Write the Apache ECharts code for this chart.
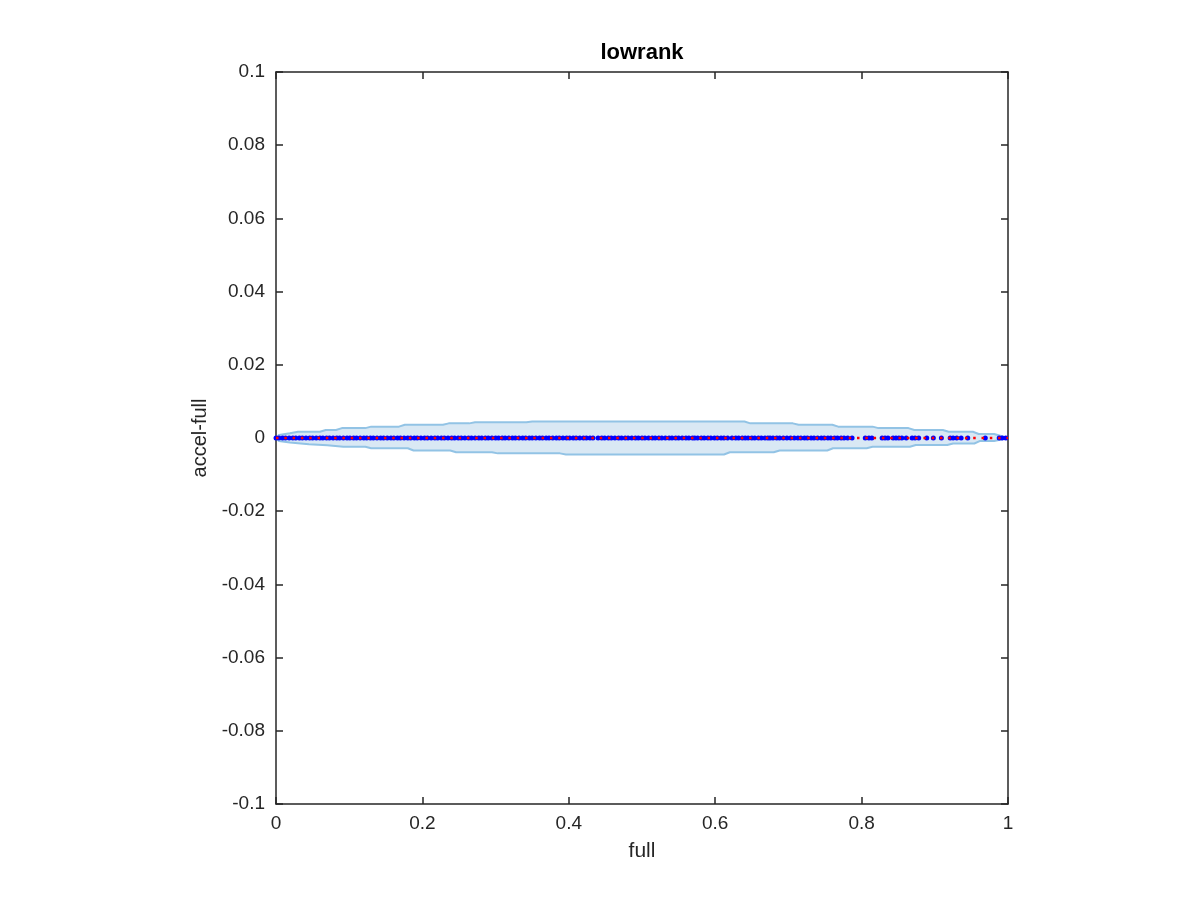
<!DOCTYPE html>
<html>
<head>
<meta charset="utf-8">
<script src="https://cdn.jsdelivr.net/npm/echarts@6/dist/echarts.min.js"></script>
<style>html,body{margin:0;padding:0;background:#fff}#c{width:1200px;height:900px}</style>
</head>
<body>
<div id="c"></div>
<script>
// ---- data ----
var titleText = 'lowrank';
var xName = 'full';
var yName = 'accel-full';
var xTicks = [0, 0.2, 0.4, 0.6, 0.8, 1];
var yTicks = [-0.1, -0.08, -0.06, -0.04, -0.02, 0, 0.02, 0.04, 0.06, 0.08, 0.1];

// envelope of the shaded band (staircase)
var upperX = [0, 0.004, 0.019, 0.030, 0.060, 0.068, 0.082, 0.090, 0.122, 0.130, 0.168, 0.176, 0.228, 0.236, 0.264, 0.272, 0.342, 0.350,
              0.640, 0.648, 0.706, 0.714, 0.760, 0.768, 0.815, 0.823, 0.864, 0.872, 0.911, 0.919, 0.952, 0.960, 0.981, 1];
var upperY = [0, 0.0008, 0.0013, 0.0017, 0.0017, 0.0022, 0.0022, 0.0027, 0.0027, 0.0031, 0.0031, 0.0036, 0.0036, 0.0040, 0.0040, 0.0043, 0.0043, 0.0045,
              0.0045, 0.0040, 0.0040, 0.0036, 0.0036, 0.0031, 0.0031, 0.0027, 0.0027, 0.0022, 0.0022, 0.0017, 0.0017, 0.0011, 0.0011, 0];
var lowerX = [0, 0.004, 0.019, 0.045, 0.070, 0.092, 0.122, 0.130, 0.180, 0.188, 0.238, 0.246, 0.295, 0.303, 0.388, 0.396,
              0.612, 0.620, 0.680, 0.688, 0.753, 0.761, 0.807, 0.815, 0.866, 0.874, 0.917, 0.925, 0.954, 0.962, 0.981, 1];
var lowerY = [0, -0.0008, -0.0012, -0.0017, -0.0020, -0.0024, -0.0024, -0.0028, -0.0028, -0.0034, -0.0034, -0.0039, -0.0039, -0.0042, -0.0042, -0.0045,
              -0.0045, -0.0039, -0.0039, -0.0034, -0.0034, -0.0028, -0.0028, -0.0024, -0.0024, -0.0019, -0.0019, -0.0015, -0.0015, -0.0008, -0.0008, 0];

// blue points (x values, all at accel-full ~ 0)
var pointsX = [
0.000,0.004,0.009,0.013,0.018,0.023,0.027,0.032,0.036,0.041,0.046,0.050,0.055,0.060,0.064,0.069,0.073,0.078,0.083,0.087,
0.092,0.097,0.101,0.106,0.110,0.115,0.120,0.124,0.129,0.133,0.138,0.143,0.147,0.152,0.157,0.161,0.166,0.170,0.175,0.180,
0.184,0.189,0.193,0.198,0.203,0.207,0.212,0.217,0.221,0.226,0.230,0.235,0.240,0.244,0.249,0.253,0.258,0.263,0.267,0.272,
0.277,0.281,0.286,0.290,0.295,0.300,0.304,0.309,0.313,0.318,0.323,0.327,0.332,0.337,0.341,0.346,0.350,0.355,0.360,0.364,
0.369,0.373,0.378,0.383,0.387,0.392,0.397,0.401,0.406,0.410,0.415,0.420,0.424,0.429,0.433,
0.440,0.445,0.449,0.454,0.458,0.463,0.468,0.472,0.477,0.481,0.486,0.491,0.495,0.500,0.504,0.509,0.514,0.518,0.523,0.527,
0.532,0.537,0.541,0.546,0.550,0.555,0.560,0.564,0.569,0.572,
0.576,0.581,0.585,0.590,0.594,0.599,0.603,0.608,0.612,0.617,
0.623,0.628,0.632,0.637,0.641,
0.645,0.650,0.654,0.659,0.663,0.668,0.672,0.675,
0.679,0.684,0.688,0.693,0.698,0.703,
0.708,0.713,0.717,0.722,0.726,0.731,0.735,0.740,0.745,0.749,0.754,0.758,0.763,0.767,0.772,0.776,0.781,
0.787,0.805,0.810,0.814,0.828,0.832,0.836,0.843,0.847,0.851,0.855,0.861,0.869,0.873,0.878,0.889,0.898,0.909,
0.921,0.925,0.930,0.936,0.945,0.969,0.988,0.992,0.997
];
var pointsY = pointsX.map(function(){ return 0; });

// red dotted reference line
var refX = [0, 1];
var refY = [0, 0];

// ---- chart ----
function zip(a, b){ return a.map(function(v, i){ return [v, b[i]]; }); }
var axisColor = '#262626';
var font = 'Liberation Sans, Arial, Helvetica, sans-serif';
var chart = echarts.init(document.getElementById('c'), null, {renderer: 'canvas'});
function fmt(v){ return String(parseFloat(v.toFixed(3))); }
var option = {
  animation: false,
  backgroundColor: '#ffffff',
  grid: {left: 276, top: 72, width: 732, height: 732, containLabel: false},
  xAxis: [{
    type: 'value', min: 0, max: 1, interval: 0.2, position: 'bottom',
    name: xName, nameLocation: 'middle', nameGap: 37,
    nameTextStyle: {fontFamily: font, fontSize: 21, color: axisColor},
    axisLine: {onZero: false, lineStyle: {color: axisColor, width: 1.5}},
    axisTick: {inside: true, length: 7, lineStyle: {color: axisColor, width: 1.5}},
    axisLabel: {fontFamily: font, fontSize: 19, color: axisColor, margin: 10, formatter: fmt},
    splitLine: {show: false}
  }, {
    type: 'value', min: 0, max: 1, interval: 0.2, position: 'top',
    name: titleText, nameLocation: 'middle', nameGap: 8,
    nameTextStyle: {fontFamily: font, fontSize: 22, fontWeight: 'bold', color: '#000'},
    axisLine: {onZero: false, lineStyle: {color: axisColor, width: 1.5}},
    axisTick: {inside: true, length: 7, lineStyle: {color: axisColor, width: 1.5}},
    axisLabel: {show: false},
    splitLine: {show: false}
  }],
  yAxis: [{
    type: 'value', min: -0.1, max: 0.1, interval: 0.02, position: 'left',
    name: yName, nameLocation: 'middle', nameGap: 63,
    nameTextStyle: {fontFamily: font, fontSize: 20, color: axisColor},
    axisLine: {onZero: false, lineStyle: {color: axisColor, width: 1.5}},
    axisTick: {inside: true, length: 7, lineStyle: {color: axisColor, width: 1.5}},
    axisLabel: {fontFamily: font, fontSize: 19, color: axisColor, margin: 11, formatter: fmt},
    splitLine: {show: false}
  }, {
    type: 'value', min: -0.1, max: 0.1, interval: 0.02, position: 'right',
    axisLine: {onZero: false, lineStyle: {color: axisColor, width: 1.5}},
    axisTick: {inside: true, length: 7, lineStyle: {color: axisColor, width: 1.5}},
    axisLabel: {show: false},
    splitLine: {show: false}
  }],
  series: [{
    type: 'line', name: 'upper', data: zip(upperX, upperY),
    showSymbol: false, symbol: 'none',
    lineStyle: {color: '#92c3e5', width: 2},
    areaStyle: {color: '#d9e8f4', opacity: 1, origin: 0},
    z: 1
  }, {
    type: 'line', name: 'lower', data: zip(lowerX, lowerY),
    showSymbol: false, symbol: 'none',
    lineStyle: {color: '#92c3e5', width: 2},
    areaStyle: {color: '#d9e8f4', opacity: 1, origin: 0},
    z: 1
  }, {
    type: 'scatter', name: 'points', data: zip(pointsX, pointsY),
    symbol: 'circle', symbolSize: 5,
    itemStyle: {color: '#0000ff', opacity: 1},
    z: 3
  }, {
    type: 'line', name: 'ref', data: zip(refX, refY),
    showSymbol: false, symbol: 'none',
    lineStyle: {color: '#ff0000', width: 2.5, type: [2.5, 5.8], cap: 'butt'},
    z: 4
  }]
};
chart.setOption(option);
</script>
</body>
</html>
